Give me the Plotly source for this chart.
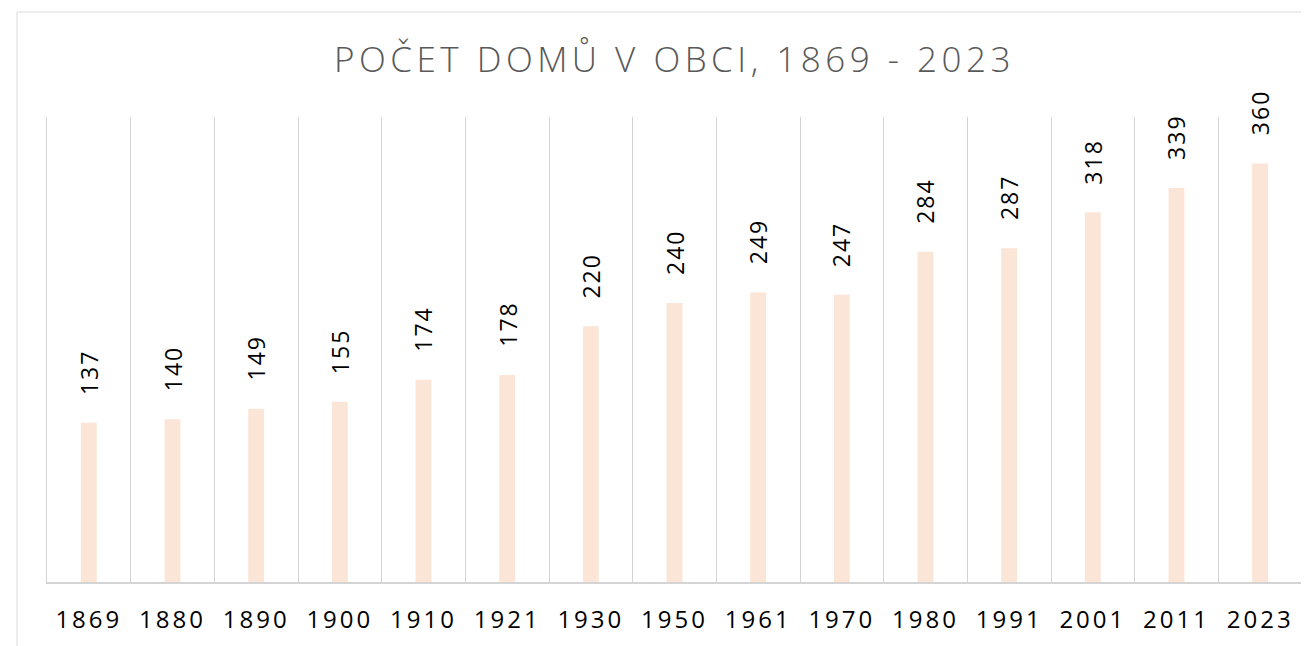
import plotly.graph_objects as go

# data
years = ["1869", "1880", "1890", "1900", "1910", "1921", "1930", "1950",
         "1961", "1970", "1980", "1991", "2001", "2011", "2023"]
houses = [137, 140, 149, 155, 174, 178, 220, 240, 249, 247, 284, 287, 318, 339, 360]

title_text = "POČET DOMŮ V OBCI, 1869 - 2023"

spaced = '<span style="letter-spacing:{}px">{}</span>'

fig = go.Figure(go.Bar(
    x=years,
    y=houses,
    marker=dict(color="#FBE5D6", line=dict(width=0)),
    hoverinfo="x+y",
))

# value labels rotated above the bars (x given as category index)
for i, val in enumerate(houses):
    fig.add_annotation(
        x=i, y=val, text=spaced.format(2, val), textangle=-90,
        showarrow=False, yanchor="bottom", yshift=26,
        font=dict(family="Open Sans", size=23, color="#000000"),
    )

# chart frame
fig.add_shape(type="rect", xref="paper", yref="paper",
              x0=-0.0239, x1=1.2, y0=-0.6, y1=1.2258,
              line=dict(color="#D9D9D9", width=1), layer="below")

fig.update_layout(
    width=1309, height=646,
    margin=dict(l=39, r=15, t=109, b=72),
    paper_bgcolor="white", plot_bgcolor="white",
    bargap=0.81,
    showlegend=False,
    title=dict(text=spaced.format(4.5, title_text), xref="paper", x=0.5,
               xanchor="center", y=0.92, yanchor="middle",
               font=dict(family="Open Sans", size=35, color="#595959", weight=300)),
    xaxis=dict(
        type="category", range=[-0.5, len(years) - 0.5],
        categoryorder="array", categoryarray=years,
        tickmode="array", tickvals=years,
        ticktext=[spaced.format(3, y) for y in years],
        tickson="boundaries", showgrid=True,
        gridcolor="#D4D4D4", gridwidth=1,
        showline=True, linecolor="#D4D4D4", linewidth=2,
        ticks="", ticklabelstandoff=15, tickangle=0, automargin=False,
        tickfont=dict(family="Open Sans", size=24, color="#000000"),
    ),
    yaxis=dict(range=[0, 400], showgrid=False, zeroline=False,
               showticklabels=False, ticks="", automargin=False,
               showline=True, linecolor="#D4D4D4", linewidth=1, mirror=True),
)

fig.write_html("out.html")
